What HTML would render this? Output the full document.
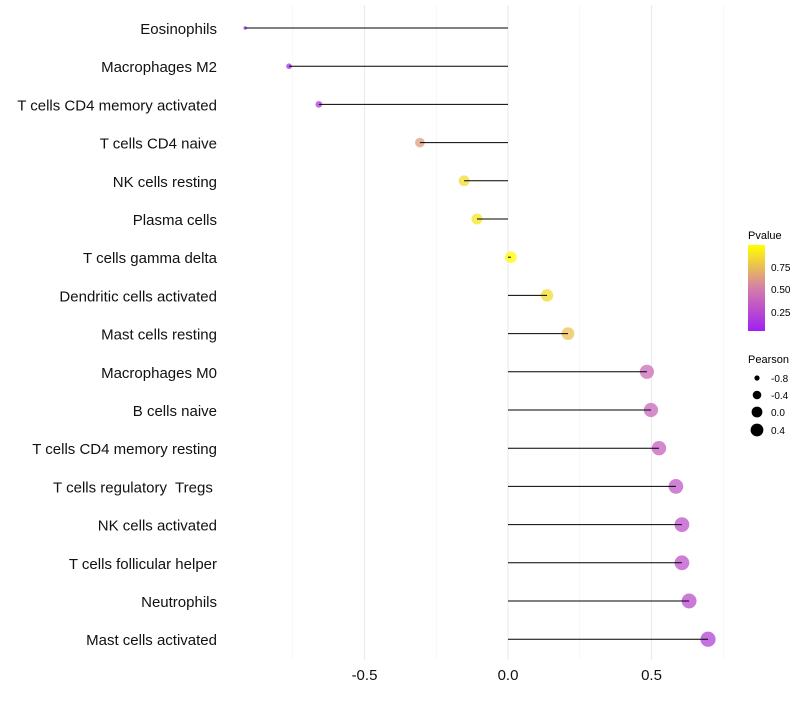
<!DOCTYPE html>
<html><head><meta charset="utf-8"><style>
body{margin:0;background:#fff;font-family:"Liberation Sans",sans-serif}
text{white-space:pre}
</style></head><body>
<svg id="c" width="800" height="700" xmlns="http://www.w3.org/2000/svg">
<defs><linearGradient id="pg" x1="0" y1="1" x2="0" y2="0">
<stop offset="0" stop-color="#A020F0"/><stop offset="0.5" stop-color="#D57EA8"/><stop offset="1" stop-color="#FFFF00"/></linearGradient></defs>
<g id="grid"></g><g id="dots"></g><g id="marks"></g><g id="labels"></g>
<g font-size="10">
<text x="748" y="239" font-size="11">Pvalue</text>
<rect x="748" y="245" width="17" height="86" fill="url(#pg)"/>
<text x="771" y="271">0.75</text><text x="771" y="293">0.50</text><text x="771" y="316">0.25</text>
</g>
<g font-size="10">
<text x="748" y="363" font-size="11">Pearson</text>
<circle cx="757" cy="378" r="2.6"/><text x="771" y="382">-0.8</text>
<circle cx="757" cy="395" r="4.3"/><text x="771" y="399">-0.4</text>
<circle cx="757" cy="412" r="5.4"/><text x="771" y="416">0.0</text>
<circle cx="757" cy="430" r="6.4"/><text x="771" y="434">0.4</text>
</g>
</svg>
<script>
const categories=["Eosinophils","Macrophages M2","T cells CD4 memory activated","T cells CD4 naive","NK cells resting","Plasma cells","T cells gamma delta","Dendritic cells activated","Mast cells resting","Macrophages M0","B cells naive","T cells CD4 memory resting","T cells regulatory  Tregs ","NK cells activated","T cells follicular helper","Neutrophils","Mast cells activated"];
const pearson=[-0.916,-0.763,-0.659,-0.307,-0.153,-0.108,0.010,0.136,0.209,0.484,0.498,0.526,0.585,0.606,0.606,0.631,0.697];
const pvalue=[0.05,0.08,0.16,0.62,0.86,0.90,0.99,0.86,0.76,0.40,0.38,0.34,0.30,0.27,0.27,0.24,0.18];
const xTicks=[-0.5,0,0.5];
const xTickLabels=["-0.5","0.0","0.5"];
const xMinor=[-0.75,-0.25,0.25,0.75];
const NS="http://www.w3.org/2000/svg";
const x=v=>508+v*287;
const y=i=>28+i*38.2;
const rad=v=>Math.sqrt(Math.max(1,34+34*v));
function col(p){const a=[160,32,240],m=[213,126,168],b=[255,255,0];let c;
if(p<0.5){const t=p/0.5;c=a.map((v,k)=>v+(m[k]-v)*t);}else{const t=(p-0.5)/0.5;c=m.map((v,k)=>v+(b[k]-v)*t);}
return `rgb(${c.map(Math.round).join(',')})`;}
function mk(t,at,parent){const e=document.createElementNS(NS,t);for(const k in at)e.setAttribute(k,at[k]);document.getElementById(parent).appendChild(e);return e;}
xMinor.forEach(v=>{const l=mk('line',{x1:x(v),x2:x(v),y1:5,y2:660,stroke:'#f3f3f3','stroke-width':0.6},'grid');

});
xTicks.forEach((v,i)=>{const l=mk('line',{x1:x(v),x2:x(v),y1:5,y2:660,stroke:'#ebebeb','stroke-width':1.1},'grid');


const t=mk('text',{x:x(v),y:680,'text-anchor':'middle','font-size':15,fill:'#111'},'labels');t.textContent=xTickLabels[i];

});
categories.forEach((c,i)=>{
const t=mk('text',{x:217,y:y(i)+6,'text-anchor':'end','font-size':15,fill:'#111'},'labels');t.textContent=c;


const d=mk('circle',{cx:x(pearson[i]),cy:y(i),r:rad(pearson[i]),fill:col(pvalue[i]),'fill-opacity':0.75},'dots');


const l=mk('line',{x1:x(0),x2:x(pearson[i]),y1:y(i),y2:y(i),stroke:'#000','stroke-width':1},'marks');


});
</script>
</body></html>
